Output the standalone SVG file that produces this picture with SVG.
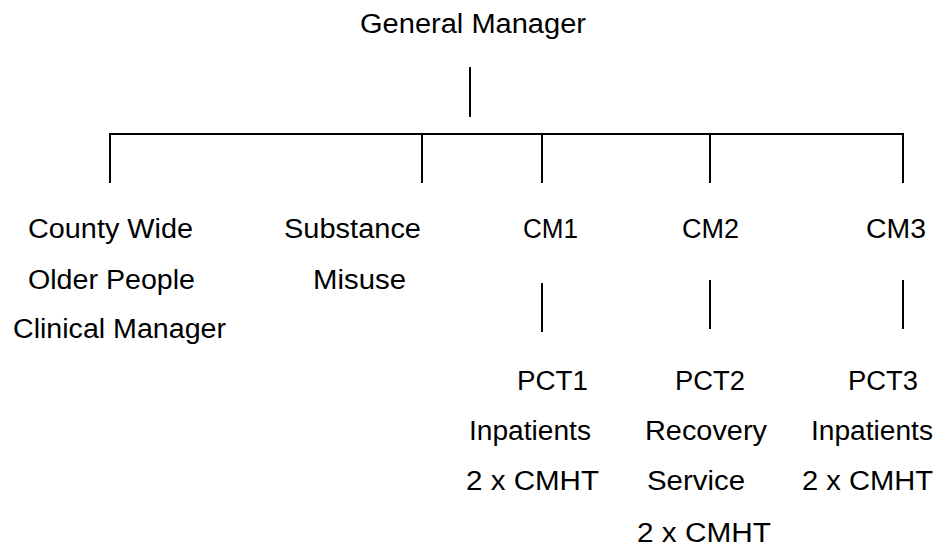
<svg xmlns="http://www.w3.org/2000/svg" width="942" height="547" viewBox="0 0 942 547">
<style>
text{font-family:"Liberation Sans",Arial,sans-serif;font-size:27px;fill:#000}
.c line{stroke:#000;stroke-width:2}
</style>
<rect width="942" height="547" fill="#fff"/>
<g class="c" id="connectors">
<line x1="470" y1="67" x2="470" y2="117"/>
<line x1="109" y1="134" x2="904" y2="134" stroke-width="3"/>
<line x1="110" y1="134" x2="110" y2="183"/>
<line x1="422" y1="134" x2="422" y2="183"/>
<line x1="542" y1="134" x2="542" y2="183"/>
<line x1="710" y1="134" x2="710" y2="183"/>
<line x1="903" y1="134" x2="903" y2="183"/>
<line x1="542" y1="283" x2="542" y2="332"/>
<line x1="710" y1="280" x2="710" y2="329"/>
<line x1="903" y1="280" x2="903" y2="329"/>
</g>
<g id="gm"><text x="360" y="33" textLength="226" lengthAdjust="spacingAndGlyphs">General Manager</text></g>
<g id="county">
<text x="28" y="238" textLength="165" lengthAdjust="spacingAndGlyphs">County Wide</text>
<text x="28" y="289" textLength="167" lengthAdjust="spacingAndGlyphs">Older People</text>
<text x="13" y="338" textLength="213" lengthAdjust="spacingAndGlyphs">Clinical Manager</text>
</g>
<g id="substance">
<text x="284" y="238" textLength="137" lengthAdjust="spacingAndGlyphs">Substance</text>
<text x="313" y="289" textLength="93" lengthAdjust="spacingAndGlyphs">Misuse</text>
</g>
<g id="cm1"><text x="523" y="238" textLength="55" lengthAdjust="spacingAndGlyphs">CM1</text></g>
<g id="cm2"><text x="682" y="238" textLength="57" lengthAdjust="spacingAndGlyphs">CM2</text></g>
<g id="cm3"><text x="866" y="238" textLength="60" lengthAdjust="spacingAndGlyphs">CM3</text></g>
<g id="pct1">
<text x="517" y="390" textLength="71" lengthAdjust="spacingAndGlyphs">PCT1</text>
<text x="469" y="440" textLength="122" lengthAdjust="spacingAndGlyphs">Inpatients</text>
<text x="466" y="490" textLength="133" lengthAdjust="spacingAndGlyphs">2 x CMHT</text>
</g>
<g id="pct2">
<text x="675" y="390" textLength="70" lengthAdjust="spacingAndGlyphs">PCT2</text>
<text x="645" y="440" textLength="122" lengthAdjust="spacingAndGlyphs">Recovery</text>
<text x="647" y="490" textLength="98" lengthAdjust="spacingAndGlyphs">Service</text>
<text x="637" y="542" textLength="134" lengthAdjust="spacingAndGlyphs">2 x CMHT</text>
</g>
<g id="pct3">
<text x="848" y="390" textLength="70" lengthAdjust="spacingAndGlyphs">PCT3</text>
<text x="811" y="440" textLength="122" lengthAdjust="spacingAndGlyphs">Inpatients</text>
<text x="802" y="490" textLength="131" lengthAdjust="spacingAndGlyphs">2 x CMHT</text>
</g>
</svg>
